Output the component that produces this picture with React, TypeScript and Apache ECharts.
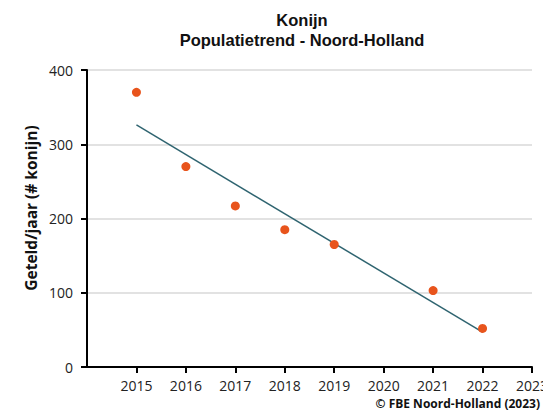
import React, { useEffect, useRef } from "react";
import * as echarts from "echarts";

const years = [2015, 2016, 2017, 2018, 2019, 2021, 2022];
const counts = [370, 270, 217, 185, 165, 103, 52];
const trendYears = [2015, 2022];
const trendValues = [326, 47];
const titleLines = ["Konijn", "Populatietrend - Noord-Holland"];
const yAxisTitle = "Geteld/jaar (# konijn)";
const footer = "© FBE Noord-Holland (2023)";

export default function App() {
  const ref = useRef<HTMLDivElement>(null);
  useEffect(() => {
    if (!ref.current) return;
    const chart = echarts.init(ref.current, undefined, { renderer: "svg" });
    const sans = "'Open Sans', 'Noto Sans', sans-serif";
    chart.setOption({
      animation: false,
      backgroundColor: "#ffffff",
      title: {
        text: titleLines.join("\n"),
        left: 297,
        top: 5,
        textAlign: "center",
        textStyle: {
          fontFamily: "'Liberation Sans', Arial, sans-serif",
          fontWeight: "bold",
          fontSize: 16.5,
          lineHeight: 20,
          color: "#111111",
        },
      },
      grid: {
        left: 87,
        top: 70,
        right: 11,
        bottom: 45,
        containLabel: false,
        outerBoundsMode: "none",
      },
      xAxis: {
        type: "value",
        min: 2014,
        max: 2023,
        interval: 1,
        splitLine: { show: false },
        axisLine: { show: true, onZero: false, lineStyle: { color: "#000000", width: 2 } },
        axisTick: { show: true, length: 6, lineStyle: { color: "#000000", width: 2 } },
        axisLabel: {
          showMinLabel: false,
          margin: 11,
          fontFamily: sans,
          fontSize: 14,
          color: "#222222",
          formatter: (v: number) => String(v),
        },
      },
      yAxis: {
        type: "value",
        min: 0,
        max: 400,
        interval: 100,
        axisLine: { show: true, lineStyle: { color: "#000000", width: 2 } },
        axisTick: { show: true, length: 6, lineStyle: { color: "#000000", width: 2 } },
        splitLine: { show: true, lineStyle: { color: "#d9d9d9", width: 1.5 } },
        axisLabel: {
          margin: 14,
          fontFamily: sans,
          fontSize: 14,
          color: "#222222",
        },
      },
      series: [
        {
          type: "line",
          data: trendYears.map((y, i) => [y, trendValues[i]]),
          showSymbol: false,
          symbol: "none",
          lineStyle: { color: "#2f6470", width: 1.5 },
          z: 2,
        },
        {
          type: "scatter",
          data: years.map((y, i) => [y, counts[i]]),
          symbol: "circle",
          symbolSize: 9,
          itemStyle: { color: "#e8541c", opacity: 1 },
          z: 3,
        },
      ],
      graphic: [
        {
          type: "text",
          x: 31,
          y: 208,
          rotation: Math.PI / 2,
          style: {
            text: yAxisTitle,
            fontFamily: sans,
            fontWeight: "bold",
            fontSize: 15.5,
            fill: "#111111",
            align: "center",
            verticalAlign: "middle",
          },
        },
        {
          type: "text",
          right: 3,
          top: 397,
          style: {
            text: footer,
            fontFamily: sans,
            fontWeight: "bold",
            fontSize: 12,
            fill: "#111111",
          },
        },
      ],
    });
    return () => chart.dispose();
  }, []);
  return (
    <div
      ref={ref}
      style={{ position: "absolute", left: 0, top: 0, width: 543, height: 412 }}
    />
  );
}
